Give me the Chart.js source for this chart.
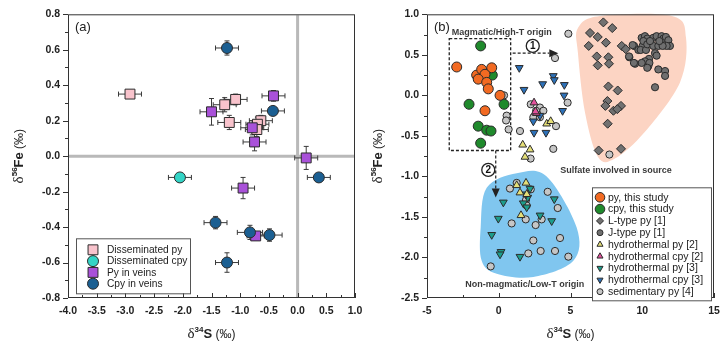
<!DOCTYPE html>
<html>
<head>
<meta charset="utf-8">
<script src="https://cdn.jsdelivr.net/npm/chart.js@4.4.0/dist/chart.umd.min.js"></script>
<style>
  html, body { margin: 0; padding: 0; background: #fff; }
  body { width: 720px; height: 345px; overflow: hidden; position: relative; }
  canvas { position: absolute; top: 0; }
  #chartA { left: 0; }
  #chartB { left: 340px; }
</style>
</head>
<body>
<canvas id="chartA" width="380" height="345"></canvas>
<canvas id="chartB" width="390" height="345"></canvas>
<script>
// ---- panel (a): [d34S, d56Fe, err S, err Fe]
const dissPy = [
  [-2.92, 0.35, 0.20, 0.02], [-1.27, 0.29, 0.20, 0.04], [-1.08, 0.32, 0.20, 0.03],
  [-1.19, 0.19, 0.20, 0.04], [-0.64, 0.20, 0.20, 0.03], [-0.70, 0.18, 0.20, 0.04],
  [-0.71, 0.15, 0.20, 0.04]
];
const dissCpy = [[-2.05, -0.12, 0.20, 0.02]];
const pyVeins = [
  [-1.50, 0.25, 0.20, 0.075], [-0.42, 0.34, 0.20, 0.03], [-0.79, 0.16, 0.20, 0.04],
  [-0.75, 0.08, 0.20, 0.05], [0.15, -0.01, 0.20, 0.065], [-0.95, -0.18, 0.20, 0.06],
  [-0.73, -0.45, 0.15, 0.02]
];
const cpyVeins = [
  [-1.23, 0.61, 0.20, 0.04], [-0.43, 0.255, 0.20, 0.02], [0.37, -0.12, 0.20, 0.02],
  [-1.43, -0.375, 0.20, 0.035], [-0.83, -0.43, 0.22, 0.04], [-0.49, -0.445, 0.22, 0.035],
  [-1.23, -0.60, 0.20, 0.055]
];

// ---- panel (b): [d34S, d56Fe]
const pyThisStudy = [
  [-2.93, 0.35], [-1.54, 0.25], [-1.19, 0.32], [-0.49, 0.34], [-0.96, 0.26],
  [-1.43, 0.20], [-0.84, 0.16], [-0.73, 0.08], [0.09, 0.00], [-0.96, -0.19]
];
const cpyThisStudy = [
  [-1.26, 0.61], [-0.45, 0.25], [-2.07, -0.11], [0.37, -0.11],
  [-1.43, -0.38], [-0.84, -0.43], [-0.54, -0.44], [-1.26, -0.59]
];
const lTypePy = [
  [6.36, 0.77], [7.29, 0.90], [7.91, 0.83], [6.90, 0.72], [7.47, 0.65], [6.27, 0.61],
  [6.83, 0.48], [7.64, 0.47], [6.90, 0.37], [7.68, 0.39], [8.57, 0.61], [8.85, 0.57],
  [7.64, 0.11], [8.29, 0.06], [7.57, -0.07], [7.43, -0.13], [7.99, -0.19], [8.52, -0.13],
  [8.26, -0.17], [7.59, -0.35], [6.96, -0.68], [8.52, -0.66]
];
const jTypePy = [
  [9.10, 0.47], [9.43, 0.61], [9.73, 0.56], [10.03, 0.61], [9.96, 0.71], [10.19, 0.73],
  [10.35, 0.70], [10.08, 0.67], [9.89, 0.56], [10.26, 0.56], [10.35, 0.63], [10.77, 0.71],
  [11.00, 0.73], [10.77, 0.61], [11.12, 0.61], [11.35, 0.73], [11.47, 0.70], [11.65, 0.72],
  [11.82, 0.68], [11.93, 0.61], [11.70, 0.61], [11.42, 0.61], [10.54, 0.67], [11.19, 0.67],
  [10.47, 0.45], [10.19, 0.42], [9.96, 0.40], [9.50, 0.39], [10.89, 0.52], [11.00, 0.49],
  [10.42, 0.36], [10.50, 0.40], [10.35, 0.34], [11.12, 0.32], [11.59, 0.30], [11.59, 0.24],
  [10.89, 0.10], [9.33, 0.62], [9.08, 0.48], [9.42, 0.40]
];
const hydroPy2 = [
  [3.34, -0.35], [3.62, -0.32], [1.67, -0.61], [2.18, -0.67], [1.83, -0.76],
  [1.90, -1.08], [1.25, -1.11], [1.48, -1.20], [1.95, -1.22], [1.55, -1.48]
];
const hydroCpy2 = [[2.46, -0.09], [2.62, -0.22], [2.56, -0.20]];
const hydroPy3 = [
  [0.32, -1.32], [-0.03, -1.52], [-0.49, -1.72], [0.16, -1.93], [0.09, -1.96],
  [1.48, -1.99], [1.71, -1.33], [2.02, -1.26], [1.90, -1.22], [2.18, -1.15],
  [1.95, -1.38], [2.88, -1.48], [3.69, -1.55], [3.87, -1.28]
];
const hydroCpy3 = [
  [1.43, 0.34], [1.76, 0.07], [3.06, 0.14], [3.80, 0.24], [3.87, 0.19], [4.57, 0.13],
  [4.55, 0.00], [4.45, -0.19], [2.46, -0.46], [3.29, -0.46], [2.41, -0.32], [2.87, -0.25]
];
const sedimentaryPy = [
  [4.85, 0.76], [3.92, 0.46], [0.37, 0.00], [0.55, -0.25], [0.51, -0.31], [0.69, -0.42],
  [1.48, -0.44], [2.23, -0.11], [2.87, -0.15], [3.11, -0.19], [2.41, -0.27], [2.87, -0.27],
  [2.60, -0.19], [3.99, -0.38], [4.80, -0.09], [3.80, -0.66], [2.22, -0.78], [7.71, -0.73],
  [1.25, -1.08], [0.78, -1.15], [2.23, -1.16], [1.90, -1.29], [3.41, -1.19], [1.95, -1.36],
  [4.11, -1.39], [0.90, -1.58], [1.88, -1.53], [2.99, -1.53], [2.57, -1.60], [2.41, -1.79],
  [4.27, -1.76], [2.92, -1.92], [3.92, -1.92], [2.06, -1.95], [4.85, -1.99], [-0.56, -2.11]
];

// outlines of the two source fields (data units)
const sulfateZone = [
  [5.52, 0.83], [7.06, 0.98], [12.07, 0.98], [13.05, 0.71], [12.63, 0.16],
  [10.19, -0.45], [8.10, -0.78], [6.92, -0.76], [6.01, -0.21], [5.52, 0.52]
];
const lowTZone = [
  [-0.84, -1.14], [1.25, -0.96], [3.34, -1.00], [5.43, -1.63], [5.20, -2.04],
  [2.41, -2.24], [-0.14, -2.20], [-1.19, -2.04], [-1.26, -1.63]
];

const FONT = '"Liberation Sans", Arial, sans-serif';
const INK = '#333';

function toPoints(rows) {
  return rows.map(r => ({ x: r[0], y: r[1] }));
}

function series(label, rows, style) {
  return Object.assign({
    label: label,
    data: toPoints(rows),
    errors: rows[0].length > 2 ? rows.map(r => [r[2], r[3]]) : null,
    borderColor: '#2b2b2b',
    borderWidth: 1,
    pointHoverRadius: 0
  }, style);
}

// mixed-font text centred on (x, y) baseline
function richText(ctx, parts, x, y) {
  let w = 0;
  parts.forEach(p => { ctx.font = p.font; p.w = ctx.measureText(p.t).width; w += p.w; });
  let cx = x - w / 2;
  ctx.textAlign = 'left';
  ctx.textBaseline = 'alphabetic';
  parts.forEach(p => { ctx.font = p.font; ctx.fillText(p.t, cx, y + (p.dy || 0)); cx += p.w; });
}

const feTitle = [
  { t: 'δ', font: '15px "Liberation Serif", serif' },
  { t: '56', font: 'bold 8px ' + FONT, dy: -6 },
  { t: 'Fe', font: 'bold 13px ' + FONT },
  { t: ' (‰)', font: '12px ' + FONT }
];
const sTitle = [
  { t: 'δ', font: '15px "Liberation Serif", serif' },
  { t: '34', font: 'bold 8px ' + FONT, dy: -6 },
  { t: 'S', font: 'bold 13px ' + FONT },
  { t: ' (‰)', font: '12px ' + FONT }
];

// frame, inward x ticks, outward y ticks and the axis titles
function frameAndTicks(xMinor, yMinor, panelTag) {
  return {
    id: 'frameAndTicks',
    afterDraw(chart) {
      const { ctx, chartArea: a, scales: { x, y } } = chart;
      ctx.save();
      ctx.strokeStyle = INK;
      ctx.lineWidth = 1;
      ctx.strokeRect(a.left + 0.5, a.top + 0.5, a.right - a.left - 1, a.bottom - a.top - 1);
      ctx.beginPath();
      for (let i = 0; ; i++) {
        const v = x.min + i * xMinor;
        if (v > x.max + 1e-9) break;
        const px = Math.round(x.getPixelForValue(v)) + 0.5;
        const len = i % 2 === 0 ? 5 : 3;
        ctx.moveTo(px, a.bottom);
        ctx.lineTo(px, a.bottom - len);
      }
      for (let i = 0; ; i++) {
        const v = y.min + i * yMinor;
        if (v > y.max + 1e-9) break;
        const py = Math.round(y.getPixelForValue(v)) + 0.5;
        const len = i % 2 === 0 ? 5 : 3;
        ctx.moveTo(a.left, py);
        ctx.lineTo(a.left - len, py);
      }
      ctx.stroke();

      ctx.fillStyle = '#222';
      richText(ctx, sTitle, (a.left + a.right) / 2, 338);
      ctx.save();
      ctx.translate(a.left - 50, (a.top + a.bottom) / 2);
      ctx.rotate(-Math.PI / 2);
      richText(ctx, feTitle, 0, 5);
      ctx.restore();

      ctx.font = '13px ' + FONT;
      ctx.textAlign = 'left';
      ctx.textBaseline = 'middle';
      ctx.fillText(panelTag, a.left + 7, a.top + 13);
      ctx.restore();
    }
  };
}

function axisOptions(xMin, xMax, xStep, yMin, yMax, yStep, yWidth, xLabel) {
  const tickFont = { family: FONT, weight: 'bold', size: 10.5 };
  const fmt1 = v => (Math.abs(v) < 1e-9 ? '0.0' : v.toFixed(1));
  return {
    x: {
      type: 'linear', min: xMin, max: xMax,
      afterFit: s => { s.height = 47; },
      grid: { display: false, drawTicks: false },
      border: { display: false },
      ticks: { stepSize: xStep, autoSkip: false, maxRotation: 0, padding: 7,
               color: '#222', font: tickFont, callback: xLabel }
    },
    y: {
      type: 'linear', min: yMin, max: yMax,
      afterFit: s => { s.width = yWidth; },
      grid: { display: false, drawTicks: false },
      border: { display: false },
      ticks: { stepSize: yStep, autoSkip: false, padding: 8,
               color: '#222', font: tickFont, callback: fmt1 }
    }
  };
}

// ---------------- panel (a)
const errorBars = {
  id: 'errorBars',
  beforeDatasetsDraw(chart) {
    const { ctx, chartArea: a, scales: { x, y } } = chart;
    ctx.save();
    // zero reference lines
    ctx.strokeStyle = '#b9b9b9';
    ctx.lineWidth = 3;
    ctx.beginPath();
    ctx.moveTo(x.getPixelForValue(0), a.top + 1);
    ctx.lineTo(x.getPixelForValue(0), a.bottom - 1);
    ctx.moveTo(a.left + 1, y.getPixelForValue(0));
    ctx.lineTo(a.right - 1, y.getPixelForValue(0));
    ctx.stroke();

    ctx.strokeStyle = '#3a3a3a';
    ctx.lineWidth = 1;
    chart.data.datasets.forEach(ds => {
      if (!ds.errors) return;
      ds.data.forEach((p, i) => {
        const [ex, ey] = ds.errors[i];
        const px = x.getPixelForValue(p.x), py = y.getPixelForValue(p.y);
        const x0 = x.getPixelForValue(p.x - ex), x1 = x.getPixelForValue(p.x + ex);
        const y0 = y.getPixelForValue(p.y - ey), y1 = y.getPixelForValue(p.y + ey);
        ctx.beginPath();
        ctx.moveTo(x0, py); ctx.lineTo(x1, py);
        ctx.moveTo(x0, py - 2.5); ctx.lineTo(x0, py + 2.5);
        ctx.moveTo(x1, py - 2.5); ctx.lineTo(x1, py + 2.5);
        ctx.moveTo(px, y0); ctx.lineTo(px, y1);
        ctx.moveTo(px - 2.5, y0); ctx.lineTo(px + 2.5, y0);
        ctx.moveTo(px - 2.5, y1); ctx.lineTo(px + 2.5, y1);
        ctx.stroke();
      });
    });
    ctx.restore();
  }
};

const legendA = {
  id: 'legendA',
  afterDraw(chart) {
    const { ctx, chartArea: a } = chart;
    const bx = a.left + 8, by = a.top + 224;
    ctx.save();
    ctx.fillStyle = '#fff';
    ctx.fillRect(bx, by, 114, 55);
    ctx.strokeStyle = '#555';
    ctx.lineWidth = 1;
    ctx.strokeRect(bx + 0.5, by + 0.5, 114, 55);
    chart.data.datasets.forEach((ds, i) => {
      const cy = by + 11.5 + i * 11.3;
      ctx.fillStyle = ds.backgroundColor;
      ctx.strokeStyle = ds.borderColor;
      ctx.lineWidth = 1;
      Chart.helpers.drawPoint(ctx, { pointStyle: ds.pointStyle, radius: ds.pointStyle === 'rect' ? 7 : 5.5, rotation: 0, borderWidth: 1 }, bx + 17, cy);
      ctx.fillStyle = '#222';
      ctx.font = '10.2px ' + FONT;
      ctx.textAlign = 'left';
      ctx.textBaseline = 'middle';
      ctx.fillText(ds.label, bx + 31, cy + 0.5);
    });
    ctx.restore();
  }
};

new Chart(document.getElementById('chartA'), {
  type: 'scatter',
  data: {
    datasets: [
      series('Disseminated py', dissPy, { pointStyle: 'rect', pointRadius: 7, backgroundColor: '#f8c3cc', order: 4 }),
      series('Disseminated cpy', dissCpy, { pointStyle: 'circle', pointRadius: 5.5, backgroundColor: '#33d4c6', order: 3 }),
      series('Py in veins', pyVeins, { pointStyle: 'rect', pointRadius: 7, backgroundColor: '#a951d9', order: 2 }),
      series('Cpy in veins', cpyVeins, { pointStyle: 'circle', pointRadius: 5.5, backgroundColor: '#1b5f92', order: 1 })
    ]
  },
  options: {
    responsive: false,
    animation: false,
    devicePixelRatio: 1,
    events: [],
    layout: { padding: { top: 11, right: 25, bottom: 0, left: 0 } },
    plugins: { legend: { display: false }, tooltip: { enabled: false } },
    scales: axisOptions(-4, 1, 0.5, -0.8, 0.8, 0.2, 68, v => v.toFixed(1))
  },
  plugins: [errorBars, frameAndTicks(0.25, 0.1, '(a)'), legendA]
});

// ---------------- panel (b)
const notes = {
  magmaticBox: [-3.45, 0.70, 0.83, -0.68],
  magmaticText: [0.21, 0.78],
  arrow1: [0.97, 0.52, 4.15, 0.52],
  circle1: [2.37, 0.61],
  arrow2: [-0.21, -0.68, -0.21, -1.26],
  circle2: [-0.73, -0.92],
  sulfateText: [8.17, -0.93],
  lowTText: [1.81, -2.33]
};

function smoothClosed(ctx, pts) {
  const n = pts.length;
  ctx.beginPath();
  ctx.moveTo(pts[0][0], pts[0][1]);
  for (let i = 0; i < n; i++) {
    const p0 = pts[(i - 1 + n) % n], p1 = pts[i], p2 = pts[(i + 1) % n], p3 = pts[(i + 2) % n];
    ctx.bezierCurveTo(
      p1[0] + (p2[0] - p0[0]) / 6, p1[1] + (p2[1] - p0[1]) / 6,
      p2[0] - (p3[0] - p1[0]) / 6, p2[1] - (p3[1] - p1[1]) / 6,
      p2[0], p2[1]);
  }
  ctx.closePath();
}

function arrow(ctx, x0, y0, x1, y1) {
  const ang = Math.atan2(y1 - y0, x1 - x0);
  const hx = x1 - 9 * Math.cos(ang), hy = y1 - 9 * Math.sin(ang);
  ctx.setLineDash([3, 2]);
  ctx.beginPath();
  ctx.moveTo(x0, y0);
  ctx.lineTo(hx, hy);
  ctx.stroke();
  ctx.setLineDash([]);
  ctx.beginPath();
  ctx.moveTo(x1, y1);
  ctx.lineTo(hx - 4 * Math.sin(ang), hy + 4 * Math.cos(ang));
  ctx.lineTo(hx + 4 * Math.sin(ang), hy - 4 * Math.cos(ang));
  ctx.closePath();
  ctx.fill();
}

function circledNumber(ctx, cx, cy, n) {
  ctx.fillStyle = '#fff';
  ctx.beginPath();
  ctx.arc(cx, cy, 6.5, 0, Math.PI * 2);
  ctx.fill();
  ctx.lineWidth = 1.3;
  ctx.stroke();
  ctx.fillStyle = '#111';
  ctx.font = 'bold 10px ' + FONT;
  ctx.textAlign = 'center';
  ctx.textBaseline = 'middle';
  ctx.fillText(n, cx, cy + 0.5);
}

const fieldsAndNotes = {
  id: 'fieldsAndNotes',
  beforeDatasetsDraw(chart) {
    const { ctx, scales: { x, y } } = chart;
    const px = v => x.getPixelForValue(v), py = v => y.getPixelForValue(v);
    ctx.save();
    ctx.fillStyle = '#fcd4c3';
    smoothClosed(ctx, sulfateZone.map(p => [px(p[0]), py(p[1])]));
    ctx.fill();
    ctx.fillStyle = '#80c6ef';
    smoothClosed(ctx, lowTZone.map(p => [px(p[0]), py(p[1])]));
    ctx.fill();

    const b = notes.magmaticBox;
    ctx.strokeStyle = '#222';
    ctx.fillStyle = '#222';
    ctx.lineWidth = 1.3;
    ctx.setLineDash([3, 2]);
    ctx.strokeRect(px(b[0]), py(b[1]), px(b[2]) - px(b[0]), py(b[3]) - py(b[1]));
    ctx.setLineDash([]);

    const a1 = notes.arrow1, a2 = notes.arrow2;
    ctx.lineWidth = 1.2;
    arrow(ctx, px(a1[0]), py(a1[1]), px(a1[2]), py(a1[3]));
    arrow(ctx, px(a2[0]), py(a2[1]), px(a2[2]), py(a2[3]));
    circledNumber(ctx, px(notes.circle1[0]), py(notes.circle1[1]), '1');
    circledNumber(ctx, px(notes.circle2[0]), py(notes.circle2[1]), '2');

    ctx.fillStyle = '#3a3a3a';
    ctx.font = 'bold 9px ' + FONT;
    ctx.textAlign = 'center';
    ctx.textBaseline = 'middle';
    ctx.fillText('Magmatic/High-T origin', px(notes.magmaticText[0]), py(notes.magmaticText[1]));
    ctx.fillText('Sulfate involved in source', px(notes.sulfateText[0]), py(notes.sulfateText[1]));
    ctx.fillText('Non-magmatic/Low-T origin', px(notes.lowTText[0]), py(notes.lowTText[1]));
    ctx.restore();
  }
};

const legendB = {
  id: 'legendB',
  afterDraw(chart) {
    const { ctx, chartArea: a } = chart;
    const bx = a.right - 122, by = a.top + 173;
    ctx.save();
    ctx.fillStyle = '#fff';
    ctx.fillRect(bx, by, 119, 113);
    ctx.strokeStyle = '#555';
    ctx.lineWidth = 1;
    ctx.strokeRect(bx + 0.5, by + 0.5, 119, 113);
    chart.data.datasets.forEach((ds, i) => {
      const cy = by + 10 + i * 11.8;
      ctx.fillStyle = ds.backgroundColor;
      ctx.strokeStyle = ds.borderColor;
      ctx.lineWidth = 1;
      const r = i < 2 ? 4.8 : (ds.pointStyle === 'circle' ? 3 : 3.5);
      Chart.helpers.drawPoint(ctx, { pointStyle: ds.pointStyle, radius: r, rotation: ds.rotation || 0, borderWidth: 1 }, bx + 8, cy);
      ctx.fillStyle = '#222';
      ctx.font = '10.5px ' + FONT;
      ctx.textAlign = 'left';
      ctx.textBaseline = 'middle';
      ctx.fillText(ds.label, bx + 16, cy + 0.5);
    });
    ctx.restore();
  }
};

new Chart(document.getElementById('chartB'), {
  type: 'scatter',
  data: {
    datasets: [
      series('py, this study', pyThisStudy, { pointStyle: 'circle', pointRadius: 5, backgroundColor: '#f26a22' }),
      series('cpy, this study', cpyThisStudy, { pointStyle: 'circle', pointRadius: 5, backgroundColor: '#1f8a2c' }),
      series('L-type py [1]', lTypePy, { pointStyle: 'rectRot', pointRadius: 4.5, backgroundColor: '#717171' }),
      series('J-type py [1]', jTypePy, { pointStyle: 'circle', pointRadius: 3.6, backgroundColor: '#6f6f6f' }),
      series('hydrothermal py [2]', hydroPy2, { pointStyle: 'triangle', pointRadius: 4.5, backgroundColor: '#e5df78' }),
      series('hydrothermal cpy [2]', hydroCpy2, { pointStyle: 'triangle', pointRadius: 4.5, backgroundColor: '#e2519c' }),
      series('hydrothermal py [3]', hydroPy3, { pointStyle: 'triangle', pointRadius: 4.5, rotation: 180, backgroundColor: '#1c9d8c' }),
      series('hydrothermal cpy [3]', hydroCpy3, { pointStyle: 'triangle', pointRadius: 4.5, rotation: 180, backgroundColor: '#2d71b8' }),
      series('sedimentary py [4]', sedimentaryPy, { pointStyle: 'circle', pointRadius: 3.6, backgroundColor: '#c6c6c6' })
    ]
  },
  options: {
    responsive: false,
    animation: false,
    devicePixelRatio: 1,
    events: [],
    layout: { padding: { top: 11, right: 16, bottom: 0, left: 0 } },
    plugins: { legend: { display: false }, tooltip: { enabled: false } },
    scales: axisOptions(-5, 15, 5, -2.5, 1.0, 0.5, 87, v => String(Math.round(v)))
  },
  plugins: [fieldsAndNotes, frameAndTicks(2.5, 0.25, '(b)'), legendB]
});
</script>
</body>
</html>
